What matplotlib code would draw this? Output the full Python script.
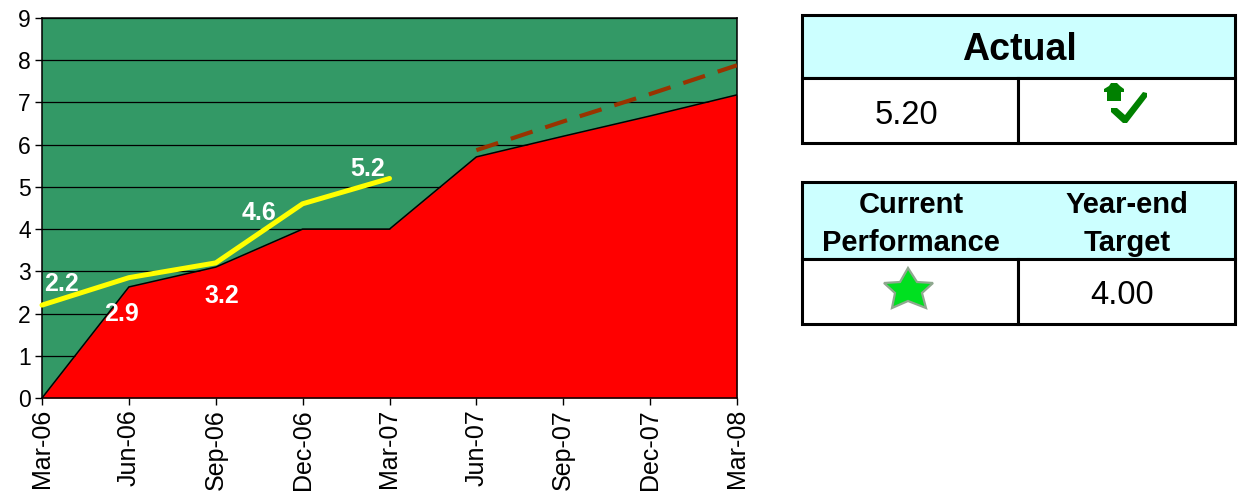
import matplotlib
matplotlib.use("Agg")
import matplotlib.pyplot as plt
from matplotlib.patches import Rectangle, Polygon

plt.rcParams['font.family'] = ['Liberation Sans', 'DejaVu Sans']

months = ['Mar-06', 'Jun-06', 'Sep-06', 'Dec-06', 'Mar-07', 'Jun-07', 'Sep-07', 'Dec-07', 'Mar-08']
threshold = [0, 2.63, 3.1, 4.0, 4.0, 5.71, 6.2, 6.68, 7.18]
actual = [2.2, 2.85, 3.2, 4.6, 5.2]
forecast = [5.87, 6.55, 7.2, 7.88]
forecast_start = 5
labels = ['2.2', '2.9', '3.2', '4.6', '5.2']
label_dy = [0.51, -0.85, -0.79, -0.21, 0.22]
label_dx = [0.23, -0.08, 0.07, -0.5, -0.25]
yticks = list(range(10))

W, H = 1239, 496
fig = plt.figure(figsize=(W / 100, H / 100), dpi=100, facecolor='white')


def frac(x0, y0, x1, y1):
    return [x0 / W, 1 - y1 / H, (x1 - x0) / W, (y1 - y0) / H]


ax = fig.add_axes(frac(42, 18, 737, 398))
ax.set_facecolor('#339966')
xs = list(range(len(months)))
ax.set_axisbelow(True)
ax.yaxis.grid(True, color='black', lw=0.9)
ax.fill_between(xs, threshold, 0, color='#FF0000', lw=0, zorder=2)
ax.plot(xs, threshold, color='black', lw=1.1, zorder=3)
ax.plot(xs[:len(actual)], actual, color='#FFFF00', lw=3.6, solid_capstyle='round',
        solid_joinstyle='round', zorder=5, clip_on=False)
ax.plot(xs[forecast_start:], forecast, color='#993300', lw=3.0, dashes=(5.5, 3.2), zorder=4)
for x, y, t, dy, dx in zip(xs, actual, labels, label_dy, label_dx):
    ax.text(x + dx, y + dy, t, color='white', fontweight='bold', fontsize=18,
            ha='center', va='center', zorder=6)
ax.set_xlim(0, 8)
ax.set_ylim(0, 9)
ax.set_xticks(xs)
ax.set_xticklabels(months, rotation=90, fontsize=18)
ax.set_yticks(yticks)
ax.tick_params(axis='y', labelsize=16.5, length=5, width=1, pad=3)
ax.tick_params(axis='x', length=5, width=1, pad=3)
for s in ax.spines.values():
    s.set_linewidth(1.1)

ov = fig.add_axes([0, 0, 1, 1], zorder=10)
ov.set_xlim(0, W)
ov.set_ylim(H, 0)
ov.axis('off')
ov.patch.set_alpha(0)


def box(x0, y0, x1, y1, fc='white'):
    ov.add_patch(Rectangle((x0, y0), x1 - x0, y1 - y0, fc=fc, ec='black', lw=2.2, joinstyle='miter'))


CY = '#CCFFFF'
box(802, 15, 1235, 78, CY)
box(802, 78, 1018, 143)
box(1018, 78, 1235, 143)
ov.text(1019, 50, 'Actual', fontsize=27, fontweight='bold', ha='center', va='center')
ov.text(906, 115, '5.20', fontsize=23.5, ha='center', va='center')

# house + tick icon
G = '#008000'
ov.add_patch(Polygon([(1104, 92), (1104, 89), (1109, 86), (1111, 83), (1117, 83), (1120, 86),
                      (1124, 89), (1124, 92), (1121, 92), (1121, 101), (1107, 101), (1107, 92)],
                     fc=G, ec='none'))
ov.add_patch(Polygon([(1111, 108), (1117, 108), (1125, 115), (1143, 92), (1147, 93), (1147, 97),
                      (1127, 123), (1123, 123), (1111, 112)], fc=G, ec='none'))

box(802, 182, 1235, 259, CY)
box(802, 259, 1018, 324)
box(1018, 259, 1235, 324)
ov.text(911, 205, 'Current', fontsize=21, fontweight='bold', ha='center', va='center')
ov.text(911, 243, 'Performance', fontsize=21, fontweight='bold', ha='center', va='center')
ov.text(1127, 205, 'Year-end', fontsize=21, fontweight='bold', ha='center', va='center')
ov.text(1127, 243, 'Target', fontsize=21, fontweight='bold', ha='center', va='center')
ov.text(1122, 295, '4.00', fontsize=23.5, ha='center', va='center')
ov.add_patch(Polygon([(908, 268), (917, 282), (933, 283), (922, 293), (926, 308), (908, 301),
                      (892, 308), (895, 293), (884, 283), (900, 282)],
                     fc='#00E020', ec='#8FA88F', lw=1.6, joinstyle='miter'))

fig.savefig('out.png', dpi=100, facecolor='white')
